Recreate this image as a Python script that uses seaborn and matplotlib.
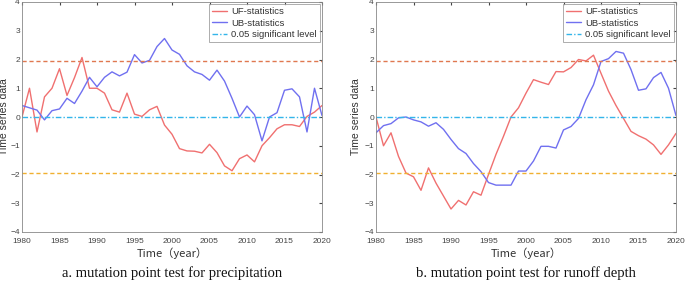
import numpy as np
import pandas as pd
import seaborn as sns
import matplotlib.pyplot as plt

years = list(range(1980, 2021))

# (a) precipitation
uf_precip = [0.0, 1.0, -0.52, 0.7, 1.0, 1.68, 0.75, 1.37, 2.07, 1.0,
             1.0, 0.83, 0.25, 0.17, 0.83, 0.1, 0.02, 0.25, 0.37, -0.28,
             -0.6, -1.1, -1.18, -1.19, -1.25, -0.95, -1.24, -1.7, -1.87, -1.45,
             -1.32, -1.56, -1.0, -0.72, -0.41, -0.27, -0.27, -0.33, 0.02, 0.17,
             0.4]
ub_precip = [0.4, 0.32, 0.24, -0.1, 0.22, 0.28, 0.65, 0.47, 0.9, 1.38,
             1.05, 1.38, 1.57, 1.43, 1.56, 2.17, 1.88, 1.97, 2.45, 2.73,
             2.33, 2.18, 1.78, 1.57, 1.48, 1.28, 1.63, 1.25, 0.65, 0.0,
             0.38, 0.08, -0.83, 0.0, 0.15, 0.93, 0.98, 0.7, -0.52, 1.0,
             0.05]

# (b) runoff depth
uf_runoff = [0.0, -1.0, -0.55, -1.37, -1.95, -2.08, -2.55, -1.77, -2.3, -2.75,
             -3.2, -2.9, -3.06, -2.6, -2.72, -2.0, -1.3, -0.67, 0.0, 0.32,
             0.83, 1.3, 1.21, 1.13, 1.58, 1.57, 1.72, 2.0, 1.95, 2.15,
             1.52, 0.9, 0.4, -0.05, -0.5, -0.65, -0.77, -0.97, -1.3, -0.97,
             -0.57]
ub_runoff = [-0.55, -0.3, -0.23, -0.03, 0.0, -0.1, -0.17, -0.32, -0.2, -0.43,
             -0.78, -1.1, -1.27, -1.62, -1.9, -2.28, -2.37, -2.37, -2.37, -1.88,
             -1.88, -1.53, -1.02, -1.02, -1.08, -0.45, -0.33, -0.05, 0.6, 1.12,
             1.93, 2.03, 2.28, 2.22, 1.65, 0.93, 0.98, 1.37, 1.55, 1.0,
             0.05]

sig_level = 1.96
captions = ["a. mutation point test for precipitation",
            "b. mutation point test for runoff depth"]

sns.set_style("white")
plt.rcParams['font.family'] = ['Arial', 'Liberation Sans', 'DejaVu Sans']

fig = plt.figure(figsize=(6.85, 2.85), dpi=100)
ax_a = fig.add_axes([22/685, 1 - 232/285, 300/685, 230/285])
ax_b = fig.add_axes([376/685, 1 - 232/285, 300/685, 230/285])

panels = [(ax_a, uf_precip, ub_precip, -0.043), (ax_b, uf_runoff, ub_runoff, -0.05)]

for i, (ax, uf, ub, ylab_x) in enumerate(panels):
    df = pd.DataFrame({'year': years, 'UF': uf, 'UB': ub})
    sns.lineplot(data=df, x='year', y='UF', ax=ax, color='#f07070', lw=1.0,
                 label='UF-statistics')
    sns.lineplot(data=df, x='year', y='UB', ax=ax, color='#7070f0', lw=1.0,
                 label='UB-statistics')
    ax.axhline(0, color='#33b5ea', ls=(0, (4, 1.5, 1, 1.5)), lw=1.0,
               label='0.05 significant level')
    ax.axhline(sig_level, color='#e07850', ls=(0, (3, 2)), lw=1.0)
    ax.axhline(-sig_level, color='#f0b030', ls=(0, (3, 2)), lw=1.0)

    ax.set_xlim(1980, 2020)
    ax.set_ylim(-4, 4)
    ax.set_xticks(range(1980, 2021, 5))
    ax.set_yticks(range(-4, 5))
    ax.tick_params(axis='both', labelsize=6, colors='#444444', direction='in',
                   length=2, top=True, right=True)
    ax.tick_params(axis='x', pad=4)
    ax.tick_params(axis='y', pad=1.5)
    for s in ax.spines.values():
        s.set_color('#888888')
        s.set_linewidth(0.6)
    ax.set_xlabel('Time（year）', fontsize=8, color='#333333', labelpad=2,
                  family=['Noto Sans CJK SC', 'DejaVu Sans'])
    ax.set_ylabel('Time series data', fontsize=7.5, color='#333333')
    ax.yaxis.set_label_coords(ylab_x, 0.5)
    leg = ax.legend(loc='upper right', fontsize=6.8, frameon=True, fancybox=False,
                    borderpad=0.3, labelspacing=0.25, handlelength=1.6,
                    handletextpad=0.4, borderaxespad=0.25)
    leg.get_frame().set_edgecolor('#888888')
    leg.get_frame().set_linewidth(0.6)
    for t in leg.get_texts():
        t.set_color('#333333')

    pos = ax.get_position()
    fig.text(pos.x0 + pos.width / 2, 1 - 273/285, captions[i], ha='center',
             va='center', fontsize=10.5, family='Liberation Serif', color='#111111')

fig.savefig('out.png', dpi=100)
